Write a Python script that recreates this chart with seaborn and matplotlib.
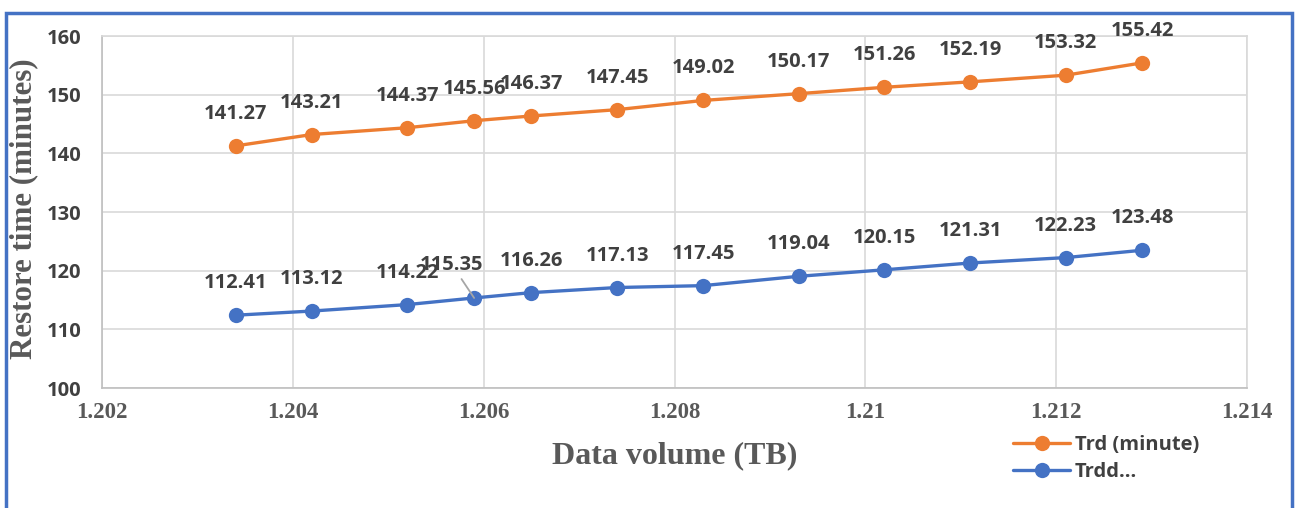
import seaborn as sns
import pandas as pd
import matplotlib.pyplot as plt
from matplotlib.patches import Rectangle

data_volume = [1.2034, 1.2042, 1.2052, 1.2059, 1.2065, 1.2074, 1.2083, 1.2093, 1.2102, 1.2111, 1.2121, 1.2129]
trd = [141.27, 143.21, 144.37, 145.56, 146.37, 147.45, 149.02, 150.17, 151.26, 152.19, 153.32, 155.42]
trdd = [112.41, 113.12, 114.22, 115.35, 116.26, 117.13, 117.45, 119.04, 120.15, 121.31, 122.23, 123.48]
series_names = ["Trd (minute)", "Trdd..."]
xticks = [1.202, 1.204, 1.206, 1.208, 1.21, 1.212, 1.214]
xtick_labels = ["1.202", "1.204", "1.206", "1.208", "1.21", "1.212", "1.214"]
yticks = [100, 110, 120, 130, 140, 150, 160]

sns.set_style("white")
plt.rcParams['font.family'] = ['Open Sans', 'DejaVu Sans']

df = pd.DataFrame({
    'x': data_volume * 2,
    'y': trd + trdd,
    'series': [series_names[0]] * len(trd) + [series_names[1]] * len(trdd),
})

fig = plt.figure(figsize=(12.96, 5.08), dpi=100)
ax = fig.add_axes([0.0787, 0.2362, 0.8835, 0.6929])
sns.lineplot(data=df, x='x', y='y', hue='series', palette=['#ED7D31', '#4472C4'],
             marker='o', markersize=11, markeredgewidth=0, linewidth=2.4, ax=ax, legend=False)

ax.set_xlim(1.202, 1.214)
ax.set_ylim(100, 160)
ax.set_xticks(xticks)
ax.set_xticklabels(xtick_labels, family='Liberation Serif', fontweight='bold', fontsize=16.5, color='#595959')
ax.set_yticks(yticks)
ax.set_yticklabels([str(v) for v in yticks], fontweight='bold', fontsize=14.5, color='#404040')
ax.tick_params(axis='x', length=0, pad=10)
ax.tick_params(axis='y', length=0, pad=15)
ax.grid(True, color='#D9D9D9', linewidth=1.2)
for s in ax.spines.values():
    s.set_color('#D9D9D9')
    s.set_linewidth(1.2)
ax.spines['left'].set_color('#BFBFBF')
ax.spines['bottom'].set_color('#BFBFBF')

ax.set_xlabel('Data volume (TB)', family='Liberation Serif', fontweight='bold', fontsize=23, color='#595959')
ax.set_ylabel('Restore time (minutes)', family='Liberation Serif', fontweight='bold', fontsize=22.3, color='#595959')
ax.xaxis.set_label_coords(0.5, -0.15)
ax.yaxis.set_label_coords(-0.056, 0.51)

# data labels
for ys in (trd, trdd):
    for i, (xv, yv) in enumerate(zip(data_volume, ys)):
        if ys is trdd and i == 3:
            ax.annotate(f"{yv:.2f}", (xv, yv), xytext=(-16, 24), textcoords='offset points',
                        ha='center', va='center', fontsize=14.5, fontweight='bold', color='#404040',
                        arrowprops=dict(arrowstyle='-', color='#A6A6A6', lw=1.3, shrinkA=1, shrinkB=0))
            continue
        ax.annotate(f"{yv:.2f}", (xv, yv), xytext=(0, 23), textcoords='offset points',
                    ha='center', va='center', fontsize=14.5, fontweight='bold', color='#404040')

handles = [plt.Line2D([], [], color=c, marker='o', markersize=11, markeredgewidth=0, linewidth=2.4)
           for c in ['#ED7D31', '#4472C4']]
fig.legend(handles, series_names, loc='upper left', bbox_to_anchor=(0.768, 0.18),
           frameon=False, prop={'family': 'Open Sans', 'weight': 'bold', 'size': 14.5},
           labelcolor='#404040', handlelength=2.8, handletextpad=0.25, labelspacing=0.35)

fig.add_artist(Rectangle((0.0045, -0.1), 0.9925, 1.074, transform=fig.transFigure,
                         fill=False, edgecolor='#4472C4', linewidth=2.5))

fig.savefig('out.png', dpi=100)
